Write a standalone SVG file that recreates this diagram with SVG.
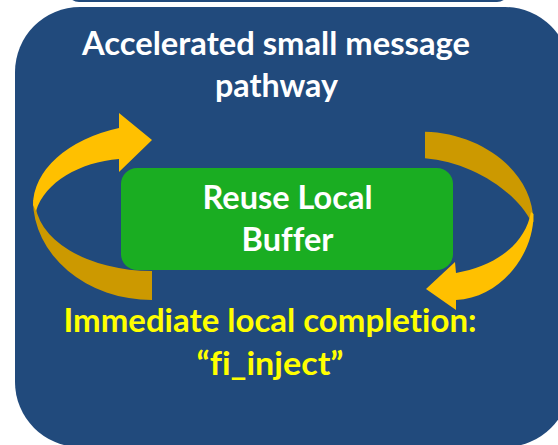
<svg xmlns="http://www.w3.org/2000/svg" width="558" height="445" viewBox="0 0 558 445">
  <style>
    .panel { fill: #214A7C; }
    .t { font-family: Lato, "Liberation Sans", Arial, sans-serif; font-weight: bold; font-size: 32.5px; text-anchor: middle; font-variant-ligatures: none; }
    .white { fill: #FFFFFF; }
    .yellow { fill: #FFFF00; }
    .front { fill: #FFC000; }
    .back { fill: #CC9900; }
  </style>
  <rect width="558" height="445" fill="#FFFFFF"/>
  <g id="top-panel">
    <rect class="panel" x="67" y="-50" width="442" height="52" rx="12"/>
  </g>
  <g id="main-panel">
    <rect class="panel" x="15" y="7" width="555" height="440" rx="65"/>
    <text class="t white" x="276" y="55" textLength="388" lengthAdjust="spacingAndGlyphs">Accelerated small message</text>
    <text class="t white" x="276.5" y="97" textLength="123" lengthAdjust="spacingAndGlyphs">pathway</text>
  </g>
  <g id="connectors">
    <!-- left curved arrow -->
    <path class="back" d="M33,200 A119,100 0 0 0 152,300 L152,271 A117,71 0 0 1 35,200 Z"/>
    <path class="front" d="M33,205 A127,81.4 0 0 1 119,128 L119,113 L152,140 L119,172 L119,159 C80,162 45,182 36,211 Z"/>
    <!-- right curved arrow -->
    <path class="back" d="M425,131.7 C480,133 533,170 533.5,222 L531.5,222 C515,190 470,162 425,158.3 Z"/>
    <path class="front" d="M533.5,214 C534,255 500,298 456,300 L456,310 L426,289 L455,262 L456,273 C495,266 525,245 531,212 Z"/>
  </g>
  <g id="reuse-buffer">
    <rect x="121" y="168" width="332" height="102" rx="16" fill="#1AAD22"/>
    <text class="t white" x="287.5" y="209">Reuse Local</text>
    <text class="t white" x="287.5" y="251">Buffer</text>
  </g>
  <g id="caption">
    <text class="t yellow" x="270" y="332" textLength="413" lengthAdjust="spacingAndGlyphs">Immediate local completion:</text>
    <text class="t yellow" x="270" y="375" textLength="147" lengthAdjust="spacingAndGlyphs">“fi_inject”</text>
  </g>
</svg>
